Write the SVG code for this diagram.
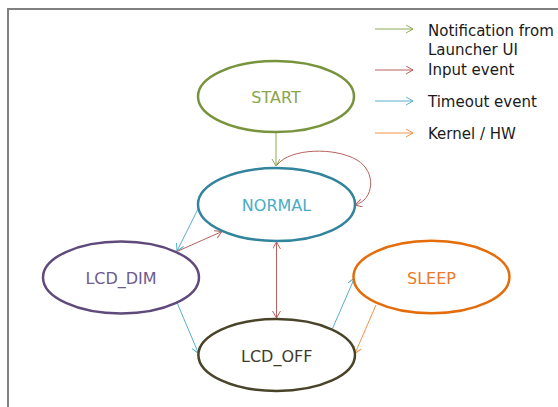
<svg xmlns="http://www.w3.org/2000/svg" width="558" height="407" viewBox="0 0 558 407">
<style>
.node{fill:#fff;stroke-width:2.5}
.lbl{font-family:"DejaVu Sans","Noto Sans",sans-serif;font-size:16px;text-anchor:middle}
.leg{font-family:"DejaVu Sans","Noto Sans",sans-serif;font-size:15px;fill:#1a1a1a}
.c{fill:none;stroke-width:1}
.g{stroke:#8DAA55}
.r{stroke:#B8615E}
.b{stroke:#5AAFC6}
.o{stroke:#F3914A}
</style>
<defs>
<marker id="ag" markerUnits="userSpaceOnUse" markerWidth="10" markerHeight="10" refX="7" refY="4" orient="auto-start-reverse"><path d="M0,0 L7,4 L0,8" fill="none" stroke="#8DAA55" stroke-width="1"/></marker>
<marker id="ar" markerUnits="userSpaceOnUse" markerWidth="10" markerHeight="10" refX="7" refY="4" orient="auto-start-reverse"><path d="M0,0 L7,4 L0,8" fill="none" stroke="#B8615E" stroke-width="1"/></marker>
<marker id="ab" markerUnits="userSpaceOnUse" markerWidth="10" markerHeight="10" refX="7" refY="4" orient="auto-start-reverse"><path d="M0,0 L7,4 L0,8" fill="none" stroke="#5AAFC6" stroke-width="1"/></marker>
<marker id="ao" markerUnits="userSpaceOnUse" markerWidth="10" markerHeight="10" refX="7" refY="4" orient="auto-start-reverse"><path d="M0,0 L7,4 L0,8" fill="none" stroke="#F3914A" stroke-width="1"/></marker>
</defs>
<rect width="558" height="407" fill="#fff"/>
<path d="M8,407 V9 H558" fill="none" stroke="#808080" stroke-width="2"/>

<g id="legend">
<line class="c g" x1="375" y1="29" x2="413" y2="29" marker-end="url(#ag)"/>
<line class="c r" x1="375" y1="70" x2="413" y2="70" marker-end="url(#ar)"/>
<line class="c b" x1="375" y1="101" x2="413" y2="101" marker-end="url(#ab)"/>
<line class="c o" x1="375" y1="133" x2="413" y2="133" marker-end="url(#ao)"/>
<text class="leg" x="428" y="36">Notification from</text>
<text class="leg" x="428" y="54.5">Launcher UI</text>
<text class="leg" x="428" y="75">Input event</text>
<text class="leg" x="428" y="107">Timeout event</text>
<text class="leg" x="428" y="139">Kernel / HW</text>
</g>

<g id="connectors">
<line class="c g" x1="276" y1="132" x2="276" y2="166" marker-end="url(#ag)"/>
<path class="c r" d="M277,165 C290,148 335,147 357,160 C377,172 374,200 355,205" marker-end="url(#ar)"/>
<line class="c b" x1="198.5" y1="208" x2="177" y2="251" marker-end="url(#ab)"/>
<line class="c r" x1="178" y1="251" x2="222" y2="231.5" marker-end="url(#ar)"/>
<line class="c r" x1="276.5" y1="242" x2="276.5" y2="318" marker-start="url(#ar)" marker-end="url(#ar)"/>
<line class="c b" x1="177" y1="302.5" x2="198.5" y2="353.5" marker-end="url(#ab)"/>
<line class="c b" x1="332.5" y1="328.5" x2="354.5" y2="278" marker-end="url(#ab)"/>
<line class="c o" x1="376" y1="305" x2="355" y2="353.5" marker-end="url(#ao)"/>
</g>

<g id="start">
<ellipse class="node" cx="276" cy="96.5" rx="78" ry="35.5" stroke="#77933C"/>
<text class="lbl" x="276" y="102.5" fill="#8AA54B">START</text>
</g>
<g id="normal">
<ellipse class="node" cx="276.5" cy="204.5" rx="78.5" ry="36.5" stroke="#31849B"/>
<text class="lbl" x="276.5" y="211" fill="#4BACC6">NORMAL</text>
</g>
<g id="lcd_dim">
<ellipse class="node" cx="121" cy="277.5" rx="78" ry="36" stroke="#604A7B"/>
<text class="lbl" x="121" y="284" fill="#6E5A8E">LCD_DIM</text>
</g>
<g id="sleep">
<ellipse class="node" cx="431.5" cy="277" rx="78" ry="36.3" stroke="#E46C0A"/>
<text class="lbl" x="431.5" y="283.5" fill="#EB7A2A">SLEEP</text>
</g>
<g id="lcd_off">
<ellipse class="node" cx="276.7" cy="355" rx="78.3" ry="36" stroke="#494429"/>
<text class="lbl" x="276.7" y="361.5" fill="#3F3B28">LCD_OFF</text>
</g>
</svg>
